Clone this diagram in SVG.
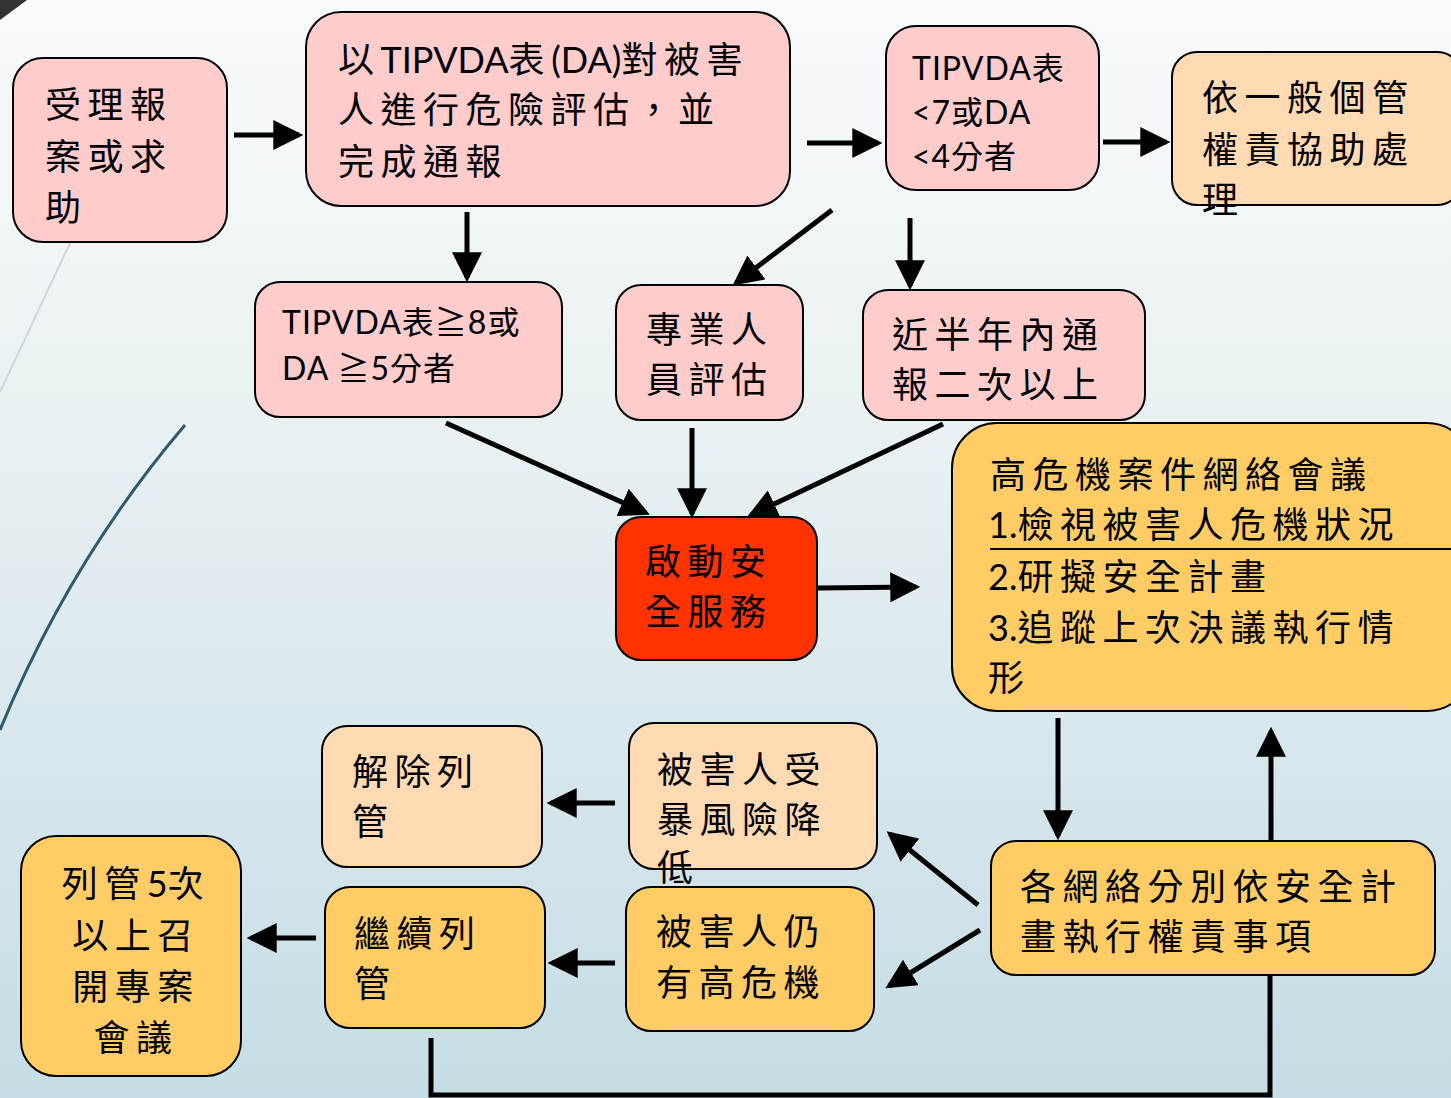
<svg xmlns="http://www.w3.org/2000/svg" width="1451" height="1098" viewBox="0 0 1451 1098">
<defs>
<linearGradient id="bg" x1="0" y1="0" x2="0" y2="1">
<stop offset="0" stop-color="#f9fbfc"/>
<stop offset="0.35" stop-color="#ebf2f4"/>
<stop offset="1" stop-color="#c5dde4"/>
</linearGradient>
<marker id="ah" markerUnits="userSpaceOnUse" markerWidth="30" markerHeight="30" viewBox="0 0 28 28" refX="24" refY="14" orient="auto">
<path d="M0,0 L28,14 L0,28 z" fill="#000"/>
</marker>
<style>
.box{stroke:#000;stroke-width:2}
.pink{fill:#ffcccc}
.peach{fill:#ffdab3}
.gold{fill:#ffcc66}
.red{fill:#ff3300}
.t{font-family:Lato,"Noto Sans CJK TC","Noto Sans CJK SC",sans-serif;font-size:36px;letter-spacing:6.5px;fill:#000}
.s{font-size:32px;letter-spacing:1px}
.l{letter-spacing:0}
.c{stroke:#000;stroke-width:5;fill:none}
.ar{marker-end:url(#ah)}
</style>
</defs>
<rect x="0" y="0" width="1451" height="1098" fill="url(#bg)"/>
<polygon points="0,0 27,0 0,20" fill="#333"/>
<path d="M70,243 L0,392" stroke="#cfd6d9" stroke-width="2" fill="none"/>
<path d="M185,425 Q70,560 0,730" stroke="#2e5a70" stroke-width="3" fill="none"/>

<g id="connectors">
<path class="c ar" d="M234,135 L299,135"/>
<path class="c ar" d="M807,143 L878,143"/>
<path class="c ar" d="M1103,142 L1166,142"/>
<path class="c ar" d="M467,212 L467,278"/>
<path class="c ar" d="M832,210 L736,283"/>
<path class="c ar" d="M910,218 L910,286"/>
<path class="c ar" d="M446,423 L646,513"/>
<path class="c ar" d="M692,428 L692,514"/>
<path class="c ar" d="M943,424 L751,515"/>
<path class="c ar" d="M818,588 L916,587"/>
<path class="c ar" d="M1058,718 L1058,836"/>
<path class="c ar" d="M1271,840 L1271,731"/>
<path class="c ar" d="M978,905 L890,834"/>
<path class="c ar" d="M980,930 L889,986"/>
<path class="c ar" d="M615,803 L551,803"/>
<path class="c ar" d="M615,963 L552,963"/>
<path class="c ar" d="M316,938 L251,938"/>
<path class="c" d="M431,1038 L431,1095 L1270,1095 L1270,976"/>
</g>

<g id="n1">
<rect class="box pink" x="13" y="58" width="214" height="184" rx="30"/>
<text class="t"><tspan x="45" y="118">受理報</tspan><tspan x="45" y="170">案或求</tspan><tspan x="45" y="221">助</tspan></text>
</g>
<g id="n2">
<rect class="box pink" x="306" y="12" width="484" height="194" rx="35"/>
<text class="t"><tspan x="338" y="73">以<tspan class="l">TIPVDA</tspan>表<tspan class="l">(DA)</tspan>對被害</tspan><tspan x="338" y="123">人進行危險評估，並</tspan><tspan x="338" y="175">完成通報</tspan></text>
</g>
<g id="n3">
<rect class="box pink" x="886" y="26" width="213" height="164" rx="30"/>
<text class="t s"><tspan x="912" y="80">TIPVDA表</tspan><tspan x="912" y="124">&lt;7或DA</tspan><tspan x="912" y="168">&lt;4分者</tspan></text>
</g>
<g id="n4">
<rect class="box peach" x="1172" y="52" width="290" height="153" rx="25"/>
<text class="t"><tspan x="1202" y="111">依一般個管</tspan><tspan x="1202" y="163">權責協助處</tspan><tspan x="1202" y="213">理</tspan></text>
</g>
<g id="n5">
<rect class="box pink" x="255" y="282" width="307" height="135" rx="25"/>
<text class="t s"><tspan x="282" y="334">TIPVDA表≧8或</tspan><tspan x="282" y="380">DA ≧5分者</tspan></text>
</g>
<g id="n6">
<rect class="box pink" x="616" y="285" width="187" height="135" rx="25"/>
<text class="t"><tspan x="646" y="343">專業人</tspan><tspan x="646" y="393">員評估</tspan></text>
</g>
<g id="n7">
<rect class="box pink" x="863" y="290" width="282" height="130" rx="25"/>
<text class="t"><tspan x="892" y="348">近半年內通</tspan><tspan x="892" y="398">報二次以上</tspan></text>
</g>
<g id="n8">
<rect class="box red" x="616" y="517" width="201" height="143" rx="25"/>
<text class="t"><tspan x="645" y="575">啟動安</tspan><tspan x="645" y="625">全服務</tspan></text>
</g>
<g id="n9">
<rect class="box gold" x="952" y="423" width="520" height="288" rx="45"/>
<text class="t"><tspan x="990" y="488">高危機案件網絡會議</tspan><tspan x="988" y="538"><tspan class="l">1.</tspan>檢視被害人危機狀況</tspan><tspan x="988" y="590"><tspan class="l">2.</tspan>研擬安全計畫</tspan><tspan x="988" y="641"><tspan class="l">3.</tspan>追蹤上次決議執行情</tspan><tspan x="988" y="691">形</tspan></text>
<line x1="990" y1="549" x2="1451" y2="549" stroke="#000" stroke-width="2"/>
</g>
<g id="n10">
<rect class="box peach" x="322" y="726" width="220" height="141" rx="25"/>
<text class="t"><tspan x="352" y="785">解除列</tspan><tspan x="352" y="835">管</tspan></text>
</g>
<g id="n11">
<rect class="box peach" x="629" y="723" width="248" height="146" rx="25"/>
<text class="t"><tspan x="657" y="783">被害人受</tspan><tspan x="657" y="833">暴風險降</tspan><tspan x="657" y="881">低</tspan></text>
</g>
<g id="n12">
<rect class="box gold" x="21" y="836" width="220" height="240" rx="35"/>
<text class="t" text-anchor="middle"><tspan x="136" y="897">列管<tspan class="l">5</tspan>次</tspan><tspan x="136" y="949">以上召</tspan><tspan x="136" y="1000">開專案</tspan><tspan x="136" y="1051">會議</tspan></text>
</g>
<g id="n13">
<rect class="box gold" x="325" y="887" width="220" height="141" rx="25"/>
<text class="t"><tspan x="354" y="947">繼續列</tspan><tspan x="354" y="997">管</tspan></text>
</g>
<g id="n14">
<rect class="box gold" x="626" y="887" width="248" height="144" rx="25"/>
<text class="t"><tspan x="656" y="945">被害人仍</tspan><tspan x="656" y="996">有高危機</tspan></text>
</g>
<g id="n15">
<rect class="box gold" x="991" y="841" width="444" height="134" rx="25"/>
<text class="t"><tspan x="1020" y="900">各網絡分別依安全計</tspan><tspan x="1020" y="950">畫執行權責事項</tspan></text>
</g>
</svg>
